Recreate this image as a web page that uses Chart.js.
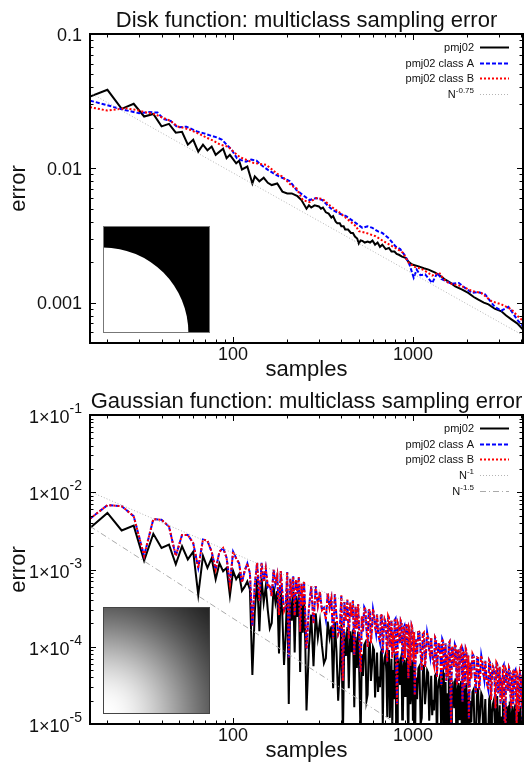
<!DOCTYPE html>
<html>
<head>
<meta charset="utf-8">
<script src="https://cdn.jsdelivr.net/npm/chart.js@4.4.1/dist/chart.umd.min.js"></script>
<style>
  body { margin: 0; background: #fff; }
  canvas { display: block; }
</style>
</head>
<body>
<canvas id="diskChart" width="525" height="381"></canvas>
<canvas id="gaussChart" width="525" height="381"></canvas>
<script>
// ----------------------------------------------------------------------DATA
//     disk function (top chart)
const diskPmjN = [
  16, 20, 24, 28, 32, 36, 40, 44, 48, 52,
  56, 60, 64, 68, 72, 76, 80, 88, 92, 96,
  104, 108, 112, 120, 128, 132, 140, 148, 156, 164,
  176, 188, 200, 212, 228, 240, 256, 264, 272, 284,
  300, 308, 316, 328, 340, 352, 360, 372, 380, 392,
  400, 412, 420, 436, 452, 464, 476, 490, 500, 512,
  524, 540, 560, 578, 596, 616, 636, 656, 676, 706,
  736, 760, 790, 812, 836, 870, 910, 950, 990, 1076,
  1150, 1222, 1330, 1420, 1515, 1620, 1720, 1880, 2032, 2180,
  2312, 2480, 2632, 2850, 3104, 3300, 3530, 3800, 4096
];
const diskPmj = [
  .0342, .0384, .0277, .0302, .0243, .0254, .0205, .0214, .0184, .0187,
  .0150, .0163, .0133, .0150, .0136, .0145, .0126, .0140, .0119, .0126,
  .0109, .0114, .0098, .0103, .0077, .0087, .0080, .0085, .0078, .0075,
  .0077, .0067, .0065, .0065, .0062, .0058, .0050, .0053, .0051, .0053,
  .0052, .0050, .0051, .0047, .0046, .0043, .0044, .0040, .0039, .0039,
  .0037, .0037, .0035, .0035, .0033, .0033, .0031, .0030, .00275, .0029,
  .00288, .0028, .00285, .0028, .0029, .0027, .0028, .0026, .0027, .0025,
  .00255, .0024, .0024, .0023, .00227, .0022, .00215, .0020, .00192, .00186,
  .0018, .00176, .00167, .00158, .00148, .0014, .00132, .00125, .00118, .0011,
  .00105, .001, .00097, .0009, .00086, .0008, .00075, .0007, .00063
];

const diskClassAN = [
  16, 20, 24, 30, 34, 38, 41, 45, 49, 55,
  59, 63, 69, 75, 81, 87, 92, 98, 105, 111,
  118, 126, 135, 141, 147, 157, 167, 180, 200, 207,
  215, 225, 245, 266, 290, 314, 335, 357, 390, 425,
  470, 524, 560, 596, 636, 676, 736, 800, 850, 910,
  960, 1010, 1050, 1100, 1170, 1280, 1370, 1440, 1515, 1650,
  1800, 1900, 2130, 2300, 2520, 2850, 3104, 3400, 3850, 4096
];
const diskClassA = [
  .0319, .0295, .0275, .0257, .0262, .0260, .0233, .0225, .0202, .0204,
  .0196, .0188, .0182, .0175, .0170, .0163, .0150, .0138, .0119, .0115,
  .0112, .0116, .0114, .0108, .0103, .0097, .0092, .0087, .0082, .0080,
  .0075, .0069, .0063, .0058, .0060, .0058, .0053, .0049, .0046, .0044,
  .0040, .0036, .0037, .0036, .0034, .0033, .0030, .00262, .0025, .00221,
  .0019, .00153, .00176, .0016, .00162, .0014, .00167, .0015, .00145, .00138,
  .0014, .00132, .00118, .0012, .00115, .00093, .00087, .00093, .00073, .00067
];

const diskClassBN = [
  16, 20, 25, 29, 33, 37, 40, 45, 49, 53,
  58, 65, 72, 78, 85, 94, 101, 109, 118, 129,
  140, 153, 163, 174, 187, 200, 212, 225, 244, 266,
  290, 315, 350, 390, 430, 483, 500, 550, 620, 676,
  740, 800, 880, 950, 1040, 1100, 1170, 1280, 1400, 1480,
  1580, 1720, 1880, 2130, 2400, 2750, 3104, 3530, 3800, 4096
];
const diskClassB = [
  .0285, .0269, .0280, .0272, .0260, .0252, .0240, .0225, .0205, .0200,
  .0193, .0180, .0168, .0160, .0150, .0145, .0132, .0121, .0116, .0110,
  .0108, .0106, .0099, .0092, .0087, .0080, .0074, .0071, .0058, .0056,
  .0060, .0059, .0052, .0047, .0042, .0037, .0034, .0033, .00312, .0029,
  .0027, .00255, .00235, .00197, .00182, .0018, .00172, .00159, .00167, .0015,
  .0014, .00136, .00132, .00122, .00118, .00102, .00097, .00089, .0008, .00073
];

const diskRefN = [16, 4096];
const diskRef = [0.0365, 0.00057];   // N^-0.75

//     gaussian function (bottom chart)
const gaussN = [
  16, 20, 24, 28, 32, 36, 40, 44, 48, 52, 56, 60, 64, 68,
  72, 76, 80, 84, 88, 92, 96, 100, 104, 108, 112, 116, 120, 124,
  128, 132, 136, 140, 144, 148, 152, 156, 160, 164, 168, 172, 176, 180, 184, 188,
  192, 196, 200, 204, 208, 212, 216, 220, 224, 228, 232, 236, 240, 244, 248, 252,
  256, 264, 272, 280, 288, 296, 304, 312, 320, 328, 336, 344, 352, 360, 368, 376,
  384, 392, 400, 408, 416, 424, 432, 440, 448, 456, 464, 472, 480, 488, 496, 504,
  512, 520, 528, 536, 544, 552, 560, 568, 576, 584, 592, 600, 608, 616, 624, 632,
  640, 648, 656, 664, 672, 680, 688, 696, 704, 712, 720, 728, 736, 744, 752, 760,
  768, 776, 784, 792, 800, 808, 816, 824, 832, 840, 848, 856, 864, 872, 880, 888,
  896, 904, 912, 920, 928, 936, 944, 952, 960, 968, 976, 984, 992, 1000, 1008, 1016,
  1024, 1040, 1056, 1072, 1088, 1104, 1120, 1136, 1152, 1168, 1184, 1200, 1216, 1232, 1248, 1264,
  1280, 1296, 1312, 1328, 1344, 1360, 1376, 1392, 1408, 1424, 1440, 1456, 1472, 1488, 1504, 1520,
  1536, 1552, 1568, 1584, 1600, 1616, 1632, 1648, 1664, 1680, 1696, 1712, 1728, 1744, 1760, 1776,
  1792, 1808, 1824, 1840, 1856, 1872, 1888, 1904, 1920, 1936, 1952, 1968, 1984, 2000, 2016, 2032,
  2048, 2080, 2112, 2144, 2176, 2208, 2240, 2272, 2304, 2336, 2368, 2400, 2432, 2464, 2496, 2528,
  2560, 2592, 2624, 2656, 2688, 2720, 2752, 2784, 2816, 2848, 2880, 2912, 2944, 2976, 3008, 3040,
  3072, 3104, 3136, 3168, 3200, 3232, 3264, 3296, 3328, 3360, 3392, 3424, 3456, 3488, 3520, 3552,
  3584, 3616, 3648, 3680, 3712, 3744, 3776, 3808, 3840, 3872, 3904, 3936, 3968, 4000, 4032, 4064,
  4096
];
const gaussPmj = [
  3.45e-3, 5.4e-3, 3.2e-3, 3.7e-3, 1.3e-3, 2.9e-3, 1.9e-3, 2.1e-3, 1.17e-3, 2.0e-3, 1.35e-3, 1.7e-3, 4.7e-4, 1.5e-3,
  1.05e-3, 1.4e-3, 7.5e-4, 1.2e-3, 9.5e-4, 1.05e-3, 4.6e-4, 9.6e-4, 7.5e-4, 8.7e-4, 5.3e-4, 6.0e-4, 7.0e-4, 5.5e-4,
  4.3e-5, 2.8e-4, 7.5e-4, 1.59e-4, 7.7e-4, 3.74e-4, 6.08e-4, 2.96e-4, 1.73e-4, 2.02e-4, 6.05e-4, 3.76e-4, 5.26e-4, 8.2e-5, 6.03e-4, 2.46e-4,
  5.8e-5, 1.42e-4, 5.55e-4, 1.82e-5, 4.45e-4, 2.18e-4, 5.14e-4, 8.4e-5, 4.54e-4, 2.43e-4, 4.78e-4, 4.7e-5, 3.86e-4, 1.52e-4, 4.48e-4, 1.1e-4,
  1.5e-5, 9.8e-5, 2.6e-4, 5.6e-5, 2.7e-4, 1.31e-4, 2.13e-4, 1.04e-4, 6.1e-5, 7.1e-5, 2.12e-4, 1.32e-4, 1.84e-4, 2.9e-5, 2.11e-4, 8.6e-5,
  2.0e-5, 5.0e-5, 1.95e-4, 6.4e-6, 1.56e-4, 7.6e-5, 1.8e-4, 2.9e-5, 1.59e-4, 8.5e-5, 1.67e-4, 1.65e-5, 1.35e-4, 5.3e-5, 1.57e-4, 3.85e-5,
  6.5e-6, 8.0e-5, 4.2e-5, 1.05e-4, 1.13e-4, 2.0e-5, 2.4e-5, 9.4e-5, 1.16e-4, 3.6e-5, 5.6e-5, 9.9e-5, 9.1e-5, 2.2e-5, 4.4e-5, 8.4e-5,
  2.6e-5, 4.1e-5, 3.0e-5, 8.5e-5, 9.1e-5, 9.8e-6, 5.6e-5, 7.2e-5, 7.9e-5, 4.6e-5, 1.23e-5, 8.1e-5, 9.1e-5, 1.2e-5, 3.7e-5, 7.0e-5,
  8.7e-6, 5.0e-5, 2.1e-5, 7.1e-5, 8.3e-5, 6.8e-6, 2.8e-6, 6.5e-5, 6.7e-5, 4.2e-5, 3.3e-5, 6.9e-5, 7.7e-5, 1.14e-5, 1.26e-5, 5.7e-5,
  6.8e-5, 2.3e-5, 3.7e-5, 6.1e-5, 7.2e-5, 1.3e-5, 7.1e-6, 5.6e-5, 5.8e-5, 1.8e-5, 2.3e-5, 6.0e-5, 6.7e-5, 1.1e-5, 1.65e-5, 5.0e-5,
  3.2e-6, 4.0e-5, 2.1e-5, 5.25e-5, 5.6e-5, 1.0e-5, 1.2e-5, 4.7e-5, 5.8e-5, 1.8e-5, 2.8e-5, 4.95e-5, 4.6e-5, 1.1e-5, 2.2e-5, 4.2e-5,
  1.3e-5, 2.05e-5, 1.5e-5, 4.25e-5, 4.6e-5, 4.9e-6, 2.8e-5, 3.6e-5, 4.0e-5, 2.3e-5, 6.2e-6, 4.05e-5, 4.6e-5, 6.0e-6, 1.85e-5, 3.5e-5,
  4.4e-6, 2.5e-5, 1.05e-5, 3.55e-5, 4.2e-5, 3.4e-6, 1.4e-6, 3.25e-5, 3.35e-5, 2.1e-5, 1.65e-5, 3.45e-5, 3.9e-5, 5.7e-6, 6.3e-6, 2.85e-5,
  3.4e-5, 1.15e-5, 1.85e-5, 3.05e-5, 3.6e-5, 6.5e-6, 3.5e-6, 2.8e-5, 2.9e-5, 9.0e-6, 1.15e-5, 3.0e-5, 3.4e-5, 5.5e-6, 8.3e-6, 2.5e-5,
  1.6e-6, 2.0e-5, 1.05e-5, 2.6e-5, 2.8e-5, 5.0e-6, 6.0e-6, 2.35e-5, 2.9e-5, 9.0e-6, 1.4e-5, 2.5e-5, 2.3e-5, 5.5e-6, 1.1e-5, 2.1e-5,
  6.5e-6, 1.0e-5, 7.5e-6, 2.1e-5, 2.3e-5, 2.5e-6, 1.4e-5, 1.8e-5, 2.0e-5, 1.15e-5, 3.1e-6, 2.0e-5, 2.3e-5, 3.0e-6, 9.3e-6, 1.75e-5,
  2.2e-6, 1.25e-5, 5.3e-6, 1.8e-5, 2.1e-5, 1.7e-6, 7e-7, 1.6e-5, 1.7e-5, 1.05e-5, 8.3e-6, 1.7e-5, 1.95e-5, 2.9e-6, 3.2e-6, 1.4e-5,
  1.7e-5, 5.8e-6, 9.3e-6, 1.5e-5, 1.8e-5, 3.3e-6, 1.8e-6, 1.4e-5, 1.45e-5, 4.5e-6, 5.8e-6, 1.5e-5, 1.7e-5, 2.8e-6, 4.2e-6, 1.25e-5,
  1.0e-6
];
//     class A and class B lie on top of each other in the picture
const gaussClassA = [
  4.55e-3, 6.8e-3, 6.6e-3, 4.9e-3, 1.5e-3, 4.5e-3, 4.4e-3, 3.6e-3, 1.5e-3, 2.8e-3, 2.8e-3, 2.2e-3, 1.05e-3, 2.45e-3,
  2.35e-3, 1.7e-3, 1.0e-3, 1.7e-3, 1.9e-3, 1.42e-3, 6.5e-4, 1.7e-3, 1.4e-3, 1.2e-3, 6.8e-4, 9.6e-4, 1.2e-3, 9.0e-4,
  1.88e-4, 6.3e-4, 1.22e-3, 3.96e-4, 1.22e-3, 6.88e-4, 1.03e-3, 5.92e-4, 6.36e-4, 4.51e-4, 9.91e-4, 6.46e-4, 8.41e-4, 2.57e-4, 9.55e-4, 4.91e-4,
  2.89e-4, 3.31e-4, 9.25e-4, 7.25e-5, 7.56e-4, 4.36e-4, 8.14e-4, 2.53e-4, 7.43e-4, 4.87e-4, 7.98e-4, 1.56e-4, 6.55e-4, 3.41e-4, 7.08e-4, 2.57e-4,
  9.4e-5, 3.15e-4, 6.1e-4, 1.98e-4, 6.1e-4, 3.44e-4, 5.15e-4, 2.96e-4, 3.18e-4, 2.26e-4, 4.96e-4, 3.23e-4, 4.2e-4, 1.29e-4, 4.78e-4, 2.46e-4,
  1.45e-4, 1.66e-4, 4.63e-4, 3.6e-5, 3.78e-4, 2.18e-4, 4.07e-4, 1.27e-4, 3.72e-4, 2.44e-4, 3.99e-4, 7.8e-5, 3.28e-4, 1.71e-4, 3.54e-4, 1.29e-4,
  4.7e-5, 2.49e-4, 1.58e-4, 3.27e-4, 3.05e-4, 1.68e-4, 9.9e-5, 2.93e-4, 3.05e-4, 1.11e-4, 1.72e-4, 3.08e-4, 2.58e-4, 1.8e-4, 1.48e-4, 2.63e-4,
  1.59e-4, 1.29e-4, 1.13e-4, 2.65e-4, 2.48e-4, 8.2e-5, 1.62e-4, 2.26e-4, 2.1e-4, 1.43e-4, 6.4e-5, 2.54e-4, 2.39e-4, 9.9e-5, 1.23e-4, 2.19e-4,
  7.2e-5, 1.55e-4, 8.3e-5, 2.22e-4, 2.31e-4, 5.7e-5, 1.8e-5, 2.02e-4, 1.89e-4, 1.32e-4, 1.09e-4, 2.16e-4, 2.04e-4, 9.5e-5, 6.3e-5, 1.77e-4,
  1.86e-4, 7.1e-5, 1.22e-4, 1.91e-4, 2.0e-4, 1.09e-4, 3.9e-5, 1.75e-4, 1.64e-4, 5.7e-5, 8.5e-5, 1.88e-4, 1.77e-4, 9.2e-5, 6.4e-5, 1.55e-4,
  2.35e-5, 1.25e-4, 7.9e-5, 1.64e-4, 1.53e-4, 8.4e-5, 4.95e-5, 1.47e-4, 1.53e-4, 5.5e-5, 8.6e-5, 1.54e-4, 1.29e-4, 9.0e-5, 7.4e-5, 1.32e-4,
  7.95e-5, 6.4e-5, 5.6e-5, 1.32e-4, 1.24e-4, 4.1e-5, 8.1e-5, 1.13e-4, 1.05e-4, 7.2e-5, 3.2e-5, 1.27e-4, 1.19e-4, 5.0e-5, 6.1e-5, 1.1e-4,
  3.6e-5, 7.8e-5, 4.1e-5, 1.11e-4, 1.16e-4, 2.9e-5, 9.1e-6, 1.01e-4, 9.5e-5, 6.6e-5, 5.5e-5, 1.08e-4, 1.02e-4, 4.8e-5, 3.2e-5, 8.9e-5,
  9.3e-5, 3.6e-5, 6.1e-5, 9.6e-5, 1.0e-4, 5.4e-5, 1.95e-5, 8.8e-5, 8.2e-5, 2.9e-5, 4.3e-5, 9.4e-5, 8.9e-5, 4.6e-5, 3.2e-5, 7.7e-5,
  1.18e-5, 6.2e-5, 3.9e-5, 8.2e-5, 7.6e-5, 4.2e-5, 2.5e-5, 7.3e-5, 7.6e-5, 2.8e-5, 4.3e-5, 7.7e-5, 6.4e-5, 4.5e-5, 3.7e-5, 6.6e-5,
  4.0e-5, 3.2e-5, 2.8e-5, 6.6e-5, 6.2e-5, 2.05e-5, 4.0e-5, 5.6e-5, 5.3e-5, 3.6e-5, 1.6e-5, 6.3e-5, 6.0e-5, 2.5e-5, 3.1e-5, 5.5e-5,
  1.8e-5, 3.9e-5, 2.1e-5, 5.5e-5, 5.8e-5, 1.45e-5, 4.5e-6, 5.0e-5, 4.7e-5, 3.3e-5, 2.7e-5, 5.4e-5, 5.1e-5, 2.4e-5, 1.6e-5, 4.4e-5,
  4.6e-5, 1.8e-5, 3.0e-5, 4.8e-5, 5.0e-5, 2.7e-5, 9.8e-6, 4.4e-5, 4.1e-5, 1.45e-5, 2.1e-5, 4.7e-5, 4.4e-5, 2.3e-5, 1.6e-5, 3.9e-5,
  5.9e-6
];
const gaussClassB = gaussClassA;

const gaussRefN = [16, 4096];
const gaussRef1 = [0.0102, 4.0e-5];    // N^-1
const gaussRef15 = [0.00363, 8.9e-7];  // N^-1.5

//     tick labels
const xTickValues = [100, 1000];
const xTickLabels = ["100", "1000"];
const diskYTickValues = [0.001, 0.01, 0.1];
const diskYTickLabels = ["0.001", "0.01", "0.1"];
const gaussYTickValues = [1e-5, 1e-4, 1e-3, 1e-2, 1e-1];
const gaussYTickExps = ["-5", "-4", "-3", "-2", "-1"];

// -----------------------------------------------------------------------STYLES
const FONT = "'Liberation Sans', Arial, Helvetica, sans-serif";

const styles = {
  pmj: { borderColor: "#000000", borderWidth: 2, borderDash: [], order: 4 },
  classA: { borderColor: "#0000ff", borderWidth: 2, borderDash: [4, 2], order: 3 },
  classB: { borderColor: "#ff0000", borderWidth: 2, borderDash: [2, 2], order: 2 },
  ref: { borderColor: "#b4b4b4", borderWidth: 1, borderDash: [1, 2], order: 1 },
  ref2: { borderColor: "#aaaaaa", borderWidth: 1, borderDash: [6, 3, 1, 3], order: 0 },
};

// -----------------------------------------------------------------------FUNCTIONS
const toPoints = (xs, ys) => xs.map((x, i) => ({ x: x, y: ys[i] }));

function makeDataset(label, xs, ys, style) {
  return Object.assign({ label: label, data: toPoints(xs, ys), fill: false, pointRadius: 0, tension: 0 }, style);
}

//     text with a superscript, right aligned at x
function drawSup(ctx, base, sup, x, y, size, supSize, rise) {
  ctx.font = supSize + "px " + FONT;
  const supW = ctx.measureText(sup).width;
  ctx.textAlign = "right";
  ctx.textBaseline = "alphabetic";
  ctx.fillText(sup, x, y - rise);
  ctx.font = size + "px " + FONT;
  ctx.fillText(base, x - supW, y);
}

let gaussImage = null;
function getGaussImage(size) {
  if (gaussImage) return gaussImage;
  const c = document.createElement("canvas");
  c.width = size;
  c.height = size;
  const g = c.getContext("2d");
  const img = g.createImageData(size, size);
  for (let j = 0; j < size; j++) {
    for (let i = 0; i < size; i++) {
      const u = i / (size - 1);
      const v = 1 - j / (size - 1);
      const val = Math.round(255 * Math.exp(-(u * u + v * v)));
      const k = (j * size + i) * 4;
      img.data[k] = val; img.data[k + 1] = val; img.data[k + 2] = val; img.data[k + 3] = 255;
    }
  }
  g.putImageData(img, 0, 0);
  gaussImage = c;
  return c;
}

function drawInset(ctx, kind, x, y, size) {
  if (kind === "disk") {
    ctx.fillStyle = "#000";
    ctx.fillRect(x, y, size, size);
    ctx.fillStyle = "#fff";
    ctx.beginPath();
    ctx.moveTo(x, y + size);
    ctx.arc(x, y + size, size * 0.798, -Math.PI / 2, 0);
    ctx.closePath();
    ctx.fill();
    ctx.strokeStyle = "#777";
  } else {
    ctx.drawImage(getGaussImage(size), x, y);
    ctx.strokeStyle = "#444";
  }
  ctx.lineWidth = 1;
  ctx.setLineDash([]);
  ctx.strokeRect(x + 0.5, y + 0.5, size - 1, size - 1);
}

// -----------------------------------------------------------------------PLUGIN
//     gnuplot like frame, ticks, labels, legend and inset
const framePlugin = {
  id: "frame",
  afterDraw(chart, args, opts) {
    const ctx = chart.ctx;
    const a = chart.chartArea;
    const xs = chart.scales.x;
    const ys = chart.scales.y;
    ctx.save();

    drawInset(ctx, opts.inset, a.left + 13, a.top + 192, 107);

    // ticks
    ctx.strokeStyle = "#000";
    ctx.lineWidth = 1;
    ctx.setLineDash([]);
    ctx.beginPath();
    for (let e = Math.floor(Math.log10(ys.min)); e <= Math.ceil(Math.log10(ys.max)); e++) {
      for (let k = 1; k <= 9; k++) {
        const v = k * Math.pow(10, e);
        if (v < ys.min * 0.999 || v > ys.max * 1.001) continue;
        const py = Math.round(ys.getPixelForValue(v)) + 0.5;
        const len = k === 1 ? 6 : 3.5;
        ctx.moveTo(a.left, py); ctx.lineTo(a.left + len, py);
        ctx.moveTo(a.right, py); ctx.lineTo(a.right - len, py);
      }
    }
    for (let e = Math.floor(Math.log10(xs.min)); e <= Math.ceil(Math.log10(xs.max)); e++) {
      for (let k = 1; k <= 9; k++) {
        const v = k * Math.pow(10, e);
        if (v < xs.min * 0.999 || v > xs.max * 1.001) continue;
        const px = Math.round(xs.getPixelForValue(v)) + 0.5;
        const len = k === 1 ? 6 : 3.5;
        ctx.moveTo(px, a.bottom); ctx.lineTo(px, a.bottom - len);
        ctx.moveTo(px, a.top); ctx.lineTo(px, a.top + len);
      }
    }
    ctx.stroke();

    // frame
    ctx.lineWidth = 2;
    ctx.strokeRect(a.left, a.top, a.right - a.left, a.bottom - a.top);

    // tick labels
    ctx.fillStyle = "#111";
    ctx.font = "18px " + FONT;
    ctx.textAlign = "center";
    ctx.textBaseline = "alphabetic";
    xTickValues.forEach((v, i) => {
      ctx.fillText(xTickLabels[i], xs.getPixelForValue(v), a.bottom + 16.5);
    });
    opts.yTicks.forEach((v, i) => {
      const py = ys.getPixelForValue(v);
      if (opts.yExps) {
        drawSup(ctx, "1\u00d710", opts.yExps[i], a.left - 8, py + 8, 18, 14, 10);
      } else {
        ctx.font = "18px " + FONT;
        ctx.textAlign = "right";
        ctx.fillText(opts.yLabels[i], a.left - 8, py + 6.5);
      }
    });

    // axis titles and title
    ctx.font = "22px " + FONT;
    ctx.textAlign = "center";
    const cx = (a.left + a.right) / 2;
    ctx.fillText("samples", cx, a.bottom + 33);
    ctx.fillText(opts.title, cx, 27);
    ctx.save();
    ctx.translate(25, (a.top + a.bottom) / 2);
    ctx.rotate(-Math.PI / 2);
    ctx.fillText("error", 0, 0);
    ctx.restore();

    // legend
    opts.legend.forEach((item, i) => {
      const y = a.top + 13 + i * 15.7;
      ctx.fillStyle = "#111";
      if (item.sup) {
        drawSup(ctx, item.text, item.sup, a.right - 49, y + 4, 11, 8, 5);
      } else {
        ctx.font = "11px " + FONT;
        ctx.textAlign = "right";
        ctx.fillText(item.text, a.right - 49, y + 4);
      }
      const st = styles[item.style];
      ctx.strokeStyle = st.borderColor;
      ctx.lineWidth = st.borderWidth;
      ctx.setLineDash(st.borderDash);
      ctx.beginPath();
      ctx.moveTo(a.right - 43, Math.round(y) + 0.5);
      ctx.lineTo(a.right - 14, Math.round(y) + 0.5);
      ctx.stroke();
    });
    ctx.restore();
  }
};

function makeOptions(yMin, yMax, frame) {
  return {
    responsive: false,
    animation: false,
    devicePixelRatio: 1,
    layout: { padding: { top: 34, right: 2, left: 0, bottom: 0 } },
    plugins: { legend: { display: false }, tooltip: { enabled: false }, frame: frame },
    scales: {
      x: {
        type: "logarithmic", min: 16, max: 4096,
        grid: { display: false }, border: { display: false }, ticks: { display: false },
        afterFit: (s) => { s.height = 38; }
      },
      y: {
        type: "logarithmic", min: yMin, max: yMax,
        grid: { display: false }, border: { display: false }, ticks: { display: false },
        afterFit: (s) => { s.width = 90; }
      }
    }
  };
}

// -----------------------------------------------------------------------CHARTS
new Chart(document.querySelector("#diskChart"), {
  type: "line",
  data: {
    datasets: [
      makeDataset("pmj02", diskPmjN, diskPmj, styles.pmj),
      makeDataset("pmj02 class A", diskClassAN, diskClassA, styles.classA),
      makeDataset("pmj02 class B", diskClassBN, diskClassB, styles.classB),
      makeDataset("N^-0.75", diskRefN, diskRef, styles.ref),
    ]
  },
  options: makeOptions(0.0005, 0.1, {
    title: "Disk function: multiclass sampling error",
    inset: "disk",
    yTicks: diskYTickValues,
    yLabels: diskYTickLabels,
    legend: [
      { text: "pmj02", style: "pmj" },
      { text: "pmj02 class A", style: "classA" },
      { text: "pmj02 class B", style: "classB" },
      { text: "N", sup: "-0.75", style: "ref" },
    ]
  }),
  plugins: [framePlugin]
});

new Chart(document.querySelector("#gaussChart"), {
  type: "line",
  data: {
    datasets: [
      makeDataset("pmj02", gaussN, gaussPmj, styles.pmj),
      makeDataset("pmj02 class A", gaussN, gaussClassA, styles.classA),
      makeDataset("pmj02 class B", gaussN, gaussClassB, styles.classB),
      makeDataset("N^-1", gaussRefN, gaussRef1, styles.ref),
      makeDataset("N^-1.5", gaussRefN, gaussRef15, styles.ref2),
    ]
  },
  options: makeOptions(1e-5, 0.1, {
    title: "Gaussian function: multiclass sampling error",
    inset: "gauss",
    yTicks: gaussYTickValues,
    yExps: gaussYTickExps,
    legend: [
      { text: "pmj02", style: "pmj" },
      { text: "pmj02 class A", style: "classA" },
      { text: "pmj02 class B", style: "classB" },
      { text: "N", sup: "-1", style: "ref" },
      { text: "N", sup: "-1.5", style: "ref2" },
    ]
  }),
  plugins: [framePlugin]
});
</script>
</body>
</html>
